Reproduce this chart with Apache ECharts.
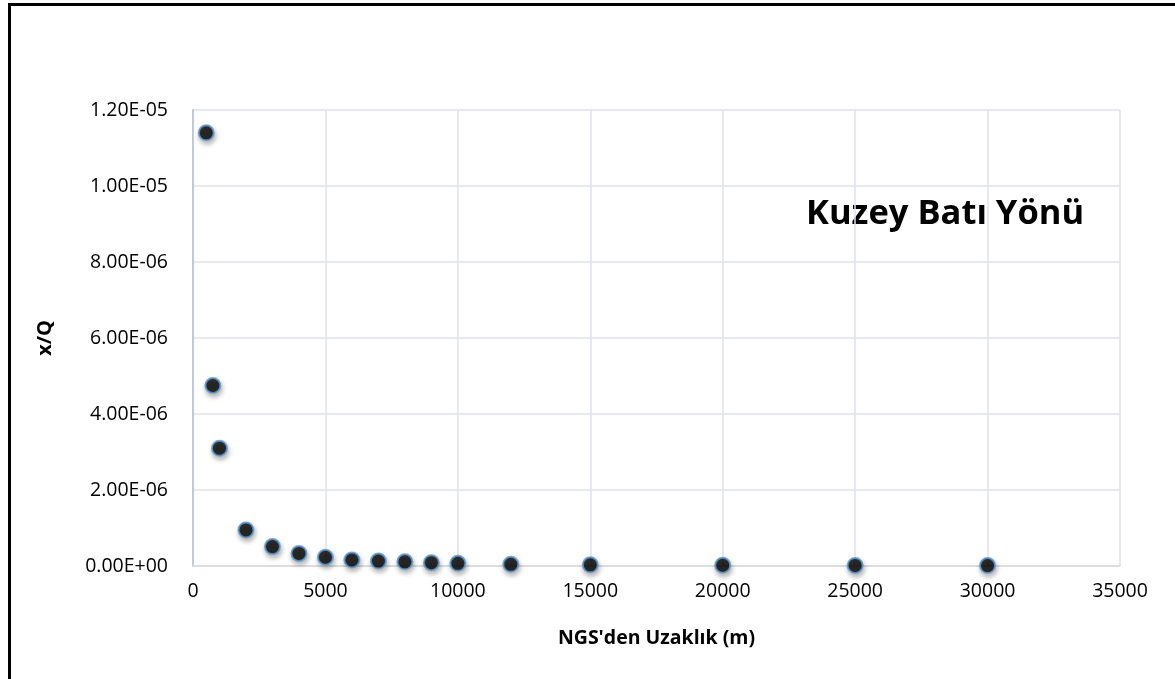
<!DOCTYPE html>
<html>
<head>
<meta charset="utf-8">
<script src="https://cdn.jsdelivr.net/npm/echarts@6/dist/echarts.min.js"></script>
<style>
  html, body { margin: 0; padding: 0; background: #fff; }
  #chart { width: 1175px; height: 679px; }
</style>
</head>
<body>
<div id="chart"></div>
<script>
// Distance from the plant (m) and the dispersion factor x/Q at each distance
const distances = [500, 750, 1000, 2000, 3000, 4000, 5000, 6000, 7000, 8000, 9000, 10000, 12000, 15000, 20000, 25000, 30000];
const xqValues = [1.14e-5, 4.75e-6, 3.10e-6, 9.5e-7, 5.1e-7, 3.3e-7, 2.3e-7, 1.6e-7, 1.3e-7, 1.1e-7, 8.7e-8, 7.0e-8, 4.5e-8, 3.0e-8, 2.0e-8, 1.5e-8, 1.2e-8];

const chartTitle = 'Kuzey Batı Yönü';
const xAxisName = "NGS'den Uzaklık (m)";
const yAxisName = 'x/Q';

// Scientific notation in the "1.20E-05" style
function sci(v) {
  if (Math.abs(v) < 1e-20) return '0.00E+00';
  const s = v.toExponential(2).split('e');
  const exp = parseInt(s[1], 10);
  const sign = exp < 0 ? '-' : '+';
  const digits = String(Math.abs(exp)).padStart(2, '0');
  return s[0] + 'E' + sign + digits;
}

const FONT = '"Open Sans", "Liberation Sans", sans-serif';

const chart = echarts.init(document.getElementById('chart'), null, { renderer: 'canvas' });
chart.setOption({
  backgroundColor: '#ffffff',
  animation: false,
  graphic: [
    {
      type: 'rect',
      shape: { x: 9.5, y: 4.5, width: 1200, height: 700 },
      style: { fill: 'none', stroke: '#000', lineWidth: 3 },
      silent: true
    },
    {
      type: 'text',
      left: 806,
      top: 197,
      style: { text: chartTitle, font: 'bold 34.5px ' + FONT, fill: '#000' }
    }
  ],
  grid: { left: 193, right: 55, top: 110, bottom: 113 },
  xAxis: {
    type: 'value',
    min: 0,
    max: 35000,
    interval: 5000,
    name: xAxisName,
    nameLocation: 'middle',
    nameGap: 62,
    nameTextStyle: { fontFamily: FONT, fontWeight: 'bold', fontSize: 19.5, color: '#000' },
    axisLine: { show: true, lineStyle: { color: '#d9d9d9', width: 1.5 } },
    axisTick: { show: false },
    axisLabel: { fontFamily: FONT, fontSize: 19.5, color: '#000', margin: 15, formatter: v => String(v) },
    splitLine: { show: true, lineStyle: { color: '#dfe2ea', width: 1.5 } }
  },
  yAxis: {
    type: 'value',
    min: 0,
    max: 1.2e-5,
    interval: 2e-6,
    name: yAxisName,
    nameLocation: 'middle',
    nameGap: 138,
    nameRotate: 90,
    nameTextStyle: { fontFamily: FONT, fontWeight: 'bold', fontSize: 20, color: '#000' },
    axisLine: { show: true, lineStyle: { color: '#bfc8dc', width: 2 } },
    axisTick: { show: false },
    axisLabel: { fontFamily: FONT, fontSize: 19.5, color: '#000', margin: 25, formatter: sci },
    splitLine: { show: true, lineStyle: { color: '#dfe2ea', width: 1.5 } }
  },
  series: [{
    type: 'scatter',
    data: distances.map((d, i) => [d, xqValues[i]]),
    symbol: 'circle',
    symbolSize: 15,
    itemStyle: {
      color: '#000000',
      borderColor: '#5b9bd5',
      borderWidth: 2,
      shadowColor: 'rgba(0,0,0,0.35)',
      shadowBlur: 5,
      shadowOffsetX: 1,
      shadowOffsetY: 3
    }
  }]
});
</script>
</body>
</html>
